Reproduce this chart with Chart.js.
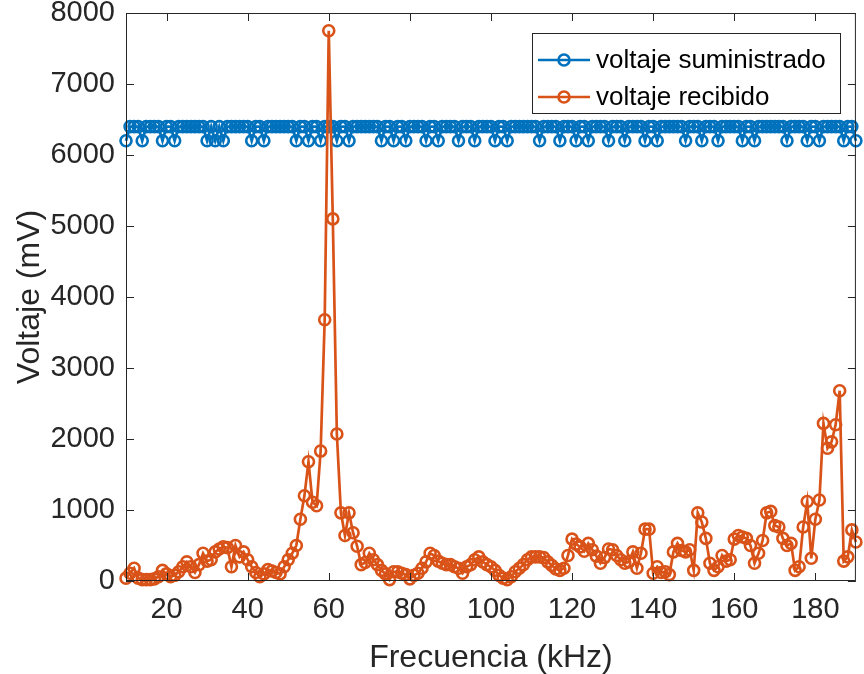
<!DOCTYPE html>
<html>
<head>
<meta charset="utf-8">
<script src="https://cdn.jsdelivr.net/npm/chart.js@4.4.1/dist/chart.umd.min.js"></script>
<style>
html, body { margin: 0; padding: 0; background: #fff; }
#wrap { width: 864px; height: 674px; }
</style>
</head>
<body>
<div id="wrap"><canvas id="line-chart"></canvas></div>
<script>
// frecuencia 10:1:190 kHz
const frecuencia = [];
for (let f = 10; f <= 190; f++) frecuencia.push(f);

const voltajeSuministrado = [
    6200, 6400, 6400, 6400, 6200, 6400, 6400, 6400, 6400, 6200,
    6400, 6400, 6200, 6400, 6400, 6400, 6400, 6400, 6400, 6400,
    6200, 6400, 6200, 6400, 6200, 6400, 6400, 6400, 6400, 6400,
    6400, 6200, 6400, 6400, 6200, 6400, 6400, 6400, 6400, 6400,
    6400, 6400, 6200, 6400, 6400, 6200, 6400, 6400, 6200, 6400,
    6400, 6400, 6200, 6400, 6400, 6200, 6400, 6400, 6400, 6400,
    6400, 6400, 6400, 6200, 6400, 6400, 6200, 6400, 6400, 6200,
    6400, 6400, 6400, 6400, 6200, 6400, 6400, 6200, 6400, 6400,
    6400, 6400, 6200, 6400, 6400, 6400, 6200, 6400, 6400, 6400,
    6400, 6200, 6400, 6400, 6200, 6400, 6400, 6400, 6400, 6400,
    6400, 6400, 6200, 6400, 6400, 6400, 6400, 6200, 6400, 6400,
    6400, 6200, 6400, 6400, 6200, 6400, 6400, 6400, 6400, 6200,
    6400, 6400, 6400, 6200, 6400, 6400, 6400, 6400, 6200, 6400,
    6400, 6200, 6400, 6400, 6400, 6400, 6400, 6400, 6200, 6400,
    6400, 6400, 6200, 6400, 6400, 6400, 6200, 6400, 6400, 6400,
    6400, 6400, 6200, 6400, 6400, 6200, 6400, 6400, 6400, 6400,
    6400, 6400, 6400, 6200, 6400, 6400, 6400, 6400, 6200, 6400,
    6400, 6200, 6400, 6400, 6400, 6400, 6400, 6200, 6400, 6400,
    6200
];

const voltajeRecibido = [
    40, 110, 180, 40, 20, 20, 20, 30, 60, 150,
    100, 60, 80, 130, 200, 270, 200, 120, 230, 390,
    280, 300, 410, 450, 480, 470, 200, 500, 340, 410,
    300, 200, 120, 60, 100, 160, 140, 120, 100, 200,
    300, 390, 500, 870, 1200, 1680, 1110, 1060, 1830, 3680,
    7750, 5100, 2070, 960, 640, 960, 680, 490, 230, 260,
    390, 300, 230, 150, 100, 20, 130, 130, 110, 90,
    30, 80, 110, 180, 270, 390, 360, 280, 250, 230,
    230, 200, 180, 110, 200, 230, 300, 340, 270, 230,
    200, 150, 80, 40, 20, 60, 130, 180, 230, 300,
    340, 340, 340, 330, 270, 220, 170, 150, 180, 360,
    590, 520, 480, 420, 530, 440, 350, 250, 330, 450,
    440, 360, 300, 250, 270, 410, 180, 390, 730, 730,
    110, 200, 120, 130, 90, 410, 530, 430, 410, 440,
    150, 960, 830, 600, 250, 150, 200, 360, 280, 300,
    590, 640, 620, 600, 500, 250, 390, 570, 960, 980,
    780, 760, 600, 500, 530, 150, 200, 760, 1120, 320,
    870, 1140, 2220, 1870, 1960, 2200, 2680, 280, 340, 720,
    550
];

const xTicks = [20, 40, 60, 80, 100, 120, 140, 160, 180];
const yTicks = [0, 1000, 2000, 3000, 4000, 5000, 6000, 7000, 8000];

const FONT = "'Liberation Sans', Arial, sans-serif";
const AXIS = '#262626';

function pts(ys) {
    return frecuencia.map((f, i) => ({x: f, y: ys[i]}));
}

// MATLAB style box, inward ticks and legend
const matlabFrame = {
    id: 'matlabFrame',
    afterDraw(chart) {
        const {ctx, chartArea: a, scales: {x, y}} = chart;
        ctx.save();
        ctx.strokeStyle = AXIS;
        ctx.lineWidth = 1;
        ctx.strokeRect(a.left + 0.5, a.top + 0.5, a.right - a.left - 1, a.bottom - a.top - 1);
        ctx.beginPath();
        xTicks.forEach(v => {
            const px = Math.round(x.getPixelForValue(v)) + 0.5;
            ctx.moveTo(px, a.bottom); ctx.lineTo(px, a.bottom - 8);
            ctx.moveTo(px, a.top); ctx.lineTo(px, a.top + 8);
        });
        yTicks.forEach(v => {
            const py = Math.round(y.getPixelForValue(v)) + 0.5;
            ctx.moveTo(a.left, py); ctx.lineTo(a.left + 8, py);
            ctx.moveTo(a.right, py); ctx.lineTo(a.right - 8, py);
        });
        ctx.stroke();

        // legend
        const lx = 532, ly = 33, lw = 308, lh = 80;
        ctx.fillStyle = '#fff';
        ctx.fillRect(lx, ly, lw, lh);
        ctx.strokeRect(lx + 0.5, ly + 0.5, lw, lh);
        chart.data.datasets.forEach((ds, i) => {
            const cy = ly + 27 + i * 37;
            ctx.strokeStyle = ds.borderColor;
            ctx.lineWidth = 2.7;
            ctx.beginPath();
            ctx.moveTo(lx + 6, cy); ctx.lineTo(lx + 58, cy);
            ctx.stroke();
            ctx.lineWidth = 2.6;
            ctx.beginPath();
            ctx.arc(lx + 32, cy, 5.5, 0, Math.PI * 2);
            ctx.stroke();
            ctx.fillStyle = '#000';
            ctx.font = '26px ' + FONT;
            ctx.textBaseline = 'middle';
            ctx.textAlign = 'left';
            ctx.fillText(ds.label, lx + 64, cy + 1);
        });
        ctx.restore();
    }
};

new Chart(document.getElementById('line-chart'), {
    type: 'line',
    data: {
        datasets: [
            {
                label: 'voltaje suministrado',
                data: pts(voltajeSuministrado),
                borderColor: '#0072BD',
                backgroundColor: 'rgba(0,0,0,0)',
                borderWidth: 2.7,
                pointRadius: 5.5,
                pointBorderWidth: 2.6,
                pointBackgroundColor: 'rgba(0,0,0,0)',
                pointBorderColor: '#0072BD',
                tension: 0,
                clip: false,
                order: 1
            },
            {
                label: 'voltaje recibido',
                data: pts(voltajeRecibido),
                borderColor: '#D95319',
                backgroundColor: 'rgba(0,0,0,0)',
                borderWidth: 2.7,
                pointRadius: 5.5,
                pointBorderWidth: 2.6,
                pointBackgroundColor: 'rgba(0,0,0,0)',
                pointBorderColor: '#D95319',
                tension: 0,
                clip: false,
                order: 0
            }
        ]
    },
    options: {
        responsive: true,
        maintainAspectRatio: false,
        animation: false,
        layout: {padding: {top: 13, right: 2, left: 0, bottom: 0}},
        plugins: {legend: {display: false}, tooltip: {enabled: false}},
        scales: {
            x: {
                type: 'linear',
                min: 10,
                max: 190,
                afterBuildTicks: s => { s.ticks = xTicks.map(v => ({value: v})); },
                afterFit: s => { s.height = 93; s.paddingLeft = 0; s.paddingRight = 0; },
                grid: {display: false, drawTicks: false},
                border: {display: false},
                ticks: {
                    maxRotation: 0,
                    autoSkip: false,
                    padding: 14,
                    color: AXIS,
                    callback: v => String(v),
                    font: {family: FONT, size: 29, lineHeight: 1}
                },
                title: {
                    display: true,
                    text: 'Frecuencia (kHz)',
                    color: AXIS,
                    padding: {top: 1, bottom: 0},
                    font: {family: FONT, size: 32, lineHeight: 1}
                }
            },
            y: {
                min: 0,
                max: 8000,
                afterBuildTicks: s => { s.ticks = yTicks.map(v => ({value: v})); },
                afterFit: s => { s.width = 126; s.paddingTop = 0; s.paddingBottom = 0; },
                grid: {display: false, drawTicks: false},
                border: {display: false},
                ticks: {
                    autoSkip: false,
                    padding: 11,
                    color: AXIS,
                    callback: v => String(v),
                    font: {family: FONT, size: 29, lineHeight: 0.9}
                },
                title: {
                    display: true,
                    text: 'Voltaje (mV)',
                    color: AXIS,
                    padding: {top: 14, bottom: 0},
                    font: {family: FONT, size: 32, lineHeight: 1}
                }
            }
        }
    },
    plugins: [matlabFrame]
});
</script>
</body>
</html>
